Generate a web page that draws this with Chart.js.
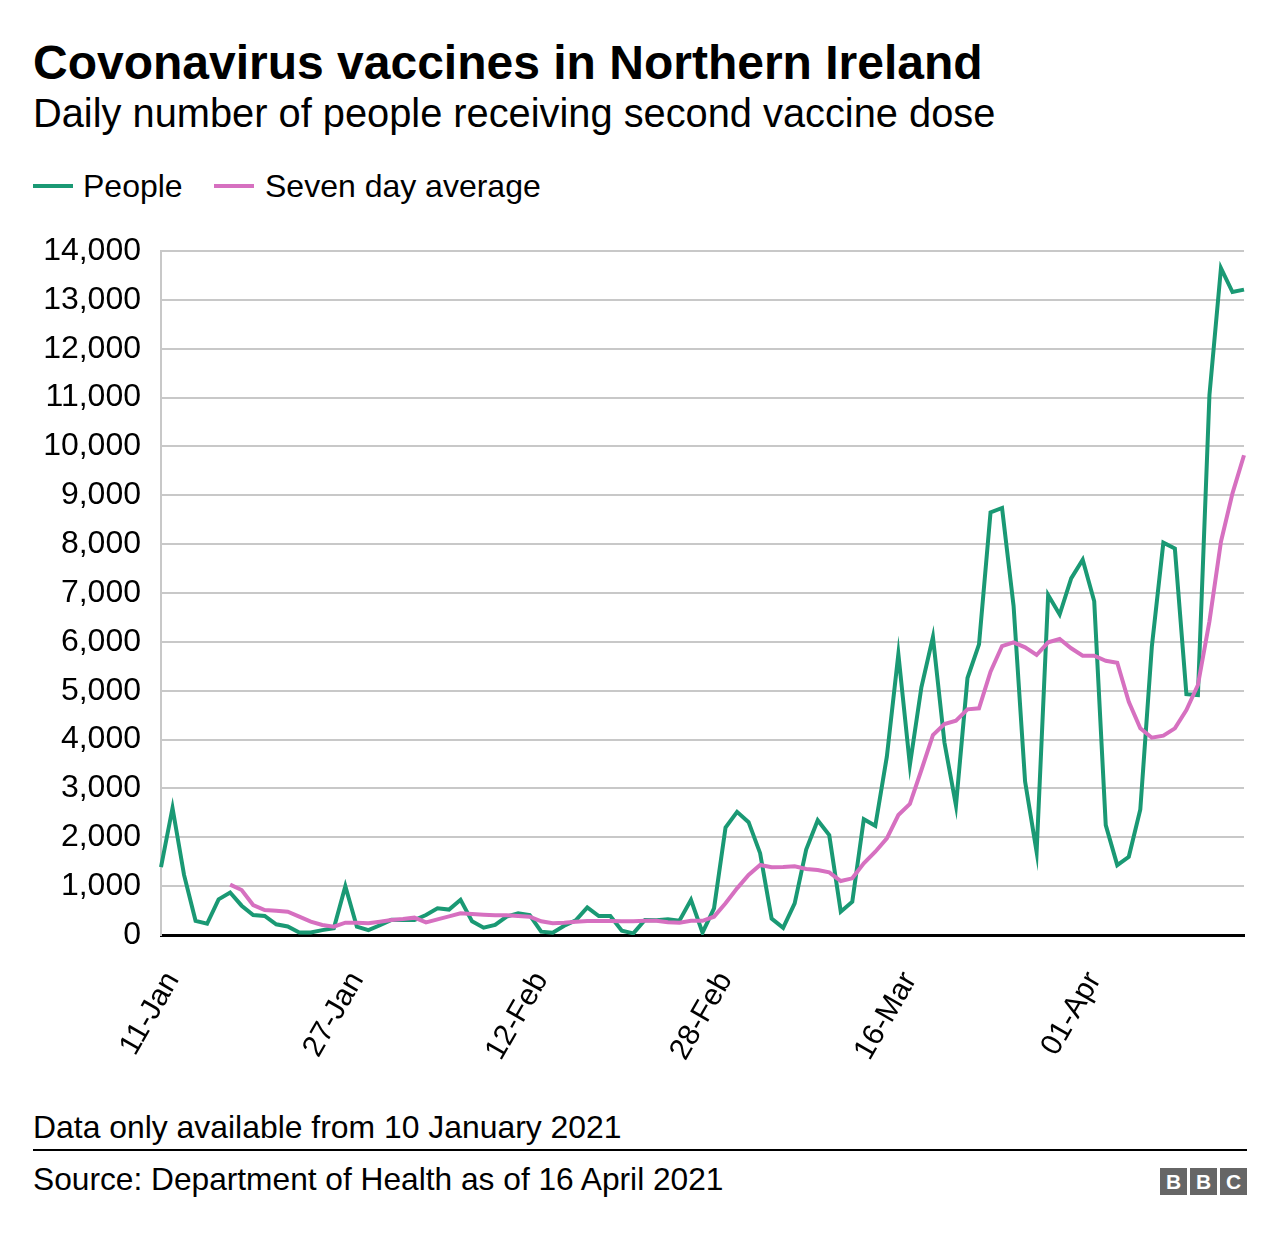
<!DOCTYPE html>
<html>
<head>
<meta charset="utf-8">
<script src="https://cdn.jsdelivr.net/npm/chart.js@4.4.1/dist/chart.umd.min.js"></script>
<style>
html,body{margin:0;padding:0;background:#fff;}
body{width:1280px;height:1238px;position:relative;overflow:hidden;font-family:"Liberation Sans",Arial,Helvetica,sans-serif;color:#000;}
.t{position:absolute;white-space:nowrap;line-height:1;}
#title{left:33px;top:39px;font-size:48px;font-weight:bold;}
#subtitle{left:33px;top:94px;font-size:39.8px;}
.leg{position:absolute;height:4px;width:40px;top:184px;}
.legtxt{font-size:32px;top:170px;}
#note{left:33px;top:1112px;font-size:31.9px;}
#rule{position:absolute;left:33px;top:1149px;width:1214px;height:2px;background:#000;}
#source{left:33px;top:1164px;font-size:31.7px;}
.bbc{position:absolute;top:1168px;width:27px;height:27px;background:#666;color:#fff;font-weight:bold;font-size:21px;line-height:27px;text-align:center;}
#wrap{position:absolute;left:0;top:230px;width:1280px;height:860px;}
</style>
</head>
<body>
<div class="t" id="title">Covonavirus vaccines in Northern Ireland</div>
<div class="t" id="subtitle">Daily number of people receiving second vaccine dose</div>
<div class="leg" style="left:33px;background:#1a9974;"></div>
<div class="t legtxt" style="left:83px;">People</div>
<div class="leg" style="left:214px;background:#d670c0;"></div>
<div class="t legtxt" style="left:265px;">Seven day average</div>
<div id="wrap"><canvas id="c" width="1280" height="860"></canvas></div>
<div class="t" id="note">Data only available from 10 January 2021</div>
<div id="rule"></div>
<div class="t" id="source">Source: Department of Health as of 16 April 2021</div>
<div class="bbc" style="left:1160px;">B</div>
<div class="bbc" style="left:1190px;">B</div>
<div class="bbc" style="left:1220px;">C</div>
<script>
// Categories: daily dates from 10 Jan 2021 (95 days)
const startDate = new Date(Date.UTC(2021, 0, 10));
const monthNames = ['Jan','Feb','Mar','Apr','May','Jun','Jul','Aug','Sep','Oct','Nov','Dec'];
const dates = [];
for (let i = 0; i < 95; i++) {
  const d = new Date(startDate.getTime() + i * 86400000);
  dates.push(String(d.getUTCDate()).padStart(2,'0') + '-' + monthNames[d.getUTCMonth()]);
}
const tickLabels = ['11-Jan','27-Jan','12-Feb','28-Feb','16-Mar','01-Apr'];
const yTicks = [0,1000,2000,3000,4000,5000,6000,7000,8000,9000,10000,11000,12000,13000,14000];

const people = [
  1390,2600,1230,290,230,730,870,600,410,390,
  220,175,50,50,100,140,1000,170,100,200,
  310,305,305,410,545,520,720,280,150,205,
  375,443,409,68,48,190,300,566,389,389,
  88,34,307,300,321,293,720,48,546,2200,
  2520,2310,1675,335,145,648,1750,2350,2045,478,
  682,2370,2235,3650,5750,3480,5070,6100,3940,2650,
  5260,5950,8650,8740,6735,3140,1700,6960,6560,7300,
  7680,6830,2250,1430,1600,2570,5900,8030,7910,4930,
  4910,11050,13650,13160,13210
];
const sevenDayAvg = [
  null,null,null,null,null,null,1030,920,614,512,
  498,478,375,273,205,170,252,252,239,273,
  307,327,355,259,321,380,443,430,415,405,
  405,390,375,280,240,250,270,285,285,285,
  280,280,290,290,260,250,290,290,375,648,
  955,1228,1433,1385,1390,1406,1351,1330,1283,1105,
  1160,1467,1705,1979,2456,2681,3377,4093,4318,4386,
  4619,4640,5389,5915,5990,5888,5731,5990,6058,5868,
  5717,5717,5614,5573,4775,4230,4038,4079,4230,4605,
  5117,6420,8050,9040,9820
];

const FONT = '"Liberation Sans", Arial, Helvetica, sans-serif';
const GREEN = '#1a9974';
const PINK = '#d670c0';

new Chart(document.getElementById('c').getContext('2d'), {
  type: 'line',
  data: {
    labels: dates,
    datasets: [
      {label:'People', data:people, borderColor:GREEN, backgroundColor:GREEN, borderWidth:4, pointRadius:0, tension:0, fill:false, order:1},
      {label:'Seven day average', data:sevenDayAvg, borderColor:PINK, backgroundColor:PINK, borderWidth:4, pointRadius:0, tension:0, fill:false, order:0}
    ]
  },
  options: {
    responsive:false, animation:false, devicePixelRatio:1,
    layout:{padding:{top:21,right:36,bottom:0,left:0}},
    plugins:{legend:{display:false}, tooltip:{enabled:false}, title:{display:false}},
    scales:{
      x:{
        type:'category', offset:false,
        grid:{display:true, color:'rgba(0,0,0,0)', drawTicks:false, tickLength:0},
        border:{display:true, color:'#000', width:3},
        ticks:{autoSkip:false, minRotation:60, maxRotation:60, padding:31, color:'#000', font:{family:FONT, size:30},
          callback:(v,i)=> tickLabels.includes(dates[i]) ? dates[i] : ''},
        afterFit(s){ s.height = 155; s.paddingLeft = 0; s.paddingRight = 0; }
      },
      y:{
        min:0, max:14000,
        afterBuildTicks(s){ s.ticks = yTicks.map(v=>({value:v})); },
        grid:{color:'#c8c8c8', lineWidth:2, drawTicks:false, tickLength:0},
        border:{display:true, color:'#c8c8c8', width:2},
        ticks:{padding:20, color:'#000', font:{family:FONT, size:32},
          callback:v=> v.toLocaleString('en-GB')},
        afterFit(s){ s.width = 161; s.paddingTop = 0; s.paddingBottom = 0; }
      }
    }
  }
});
</script>
</body>
</html>
